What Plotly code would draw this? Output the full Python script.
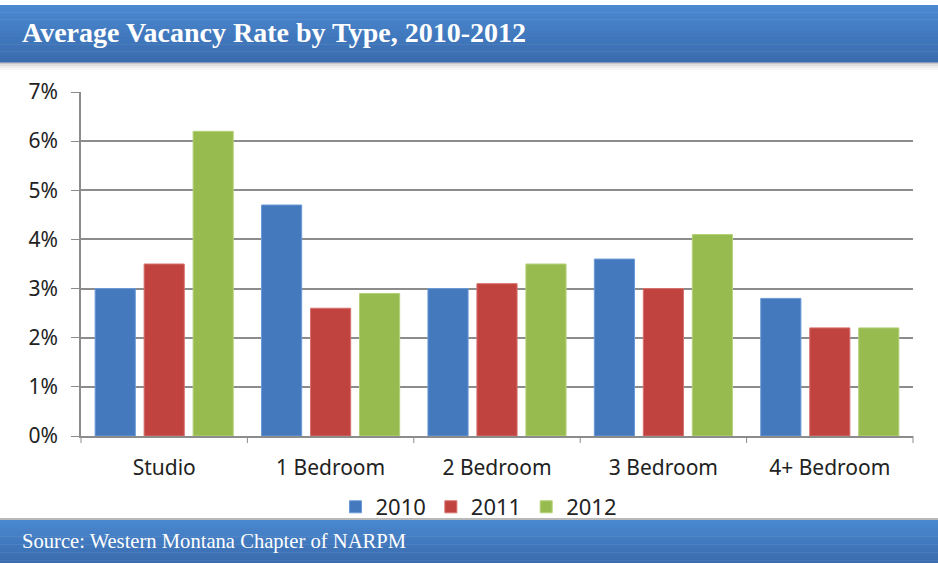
import plotly.graph_objects as go

categories = ["Studio", "1 Bedroom", "2 Bedroom", "3 Bedroom", "4+ Bedroom"]
years = ["2010", "2011", "2012"]
vac_2010 = [3.0, 4.7, 3.0, 3.6, 2.8]
vac_2011 = [3.5, 2.6, 3.1, 3.0, 2.2]
vac_2012 = [6.2, 2.9, 3.5, 4.1, 2.2]
tick_vals = [0, 1, 2, 3, 4, 5, 6, 7]
tick_text = ["0%", "1%", "2%", "3%", "4%", "5%", "6%", "7%"]

series = [vac_2010, vac_2011, vac_2012]
fills = ["#4579BE", "#C0433F", "#98BB4F"]
edges = ["#6A9AD6", "#D7716D", "#B4D27A"]

W, H = 938, 563
L, R, T, B = 81, 25, 92, 127
pw, ph = W - L - R, H - T - B


def px_x(x):
    return (x - L) / pw


def px_y(y):
    return (H - B - y) / ph


fig = go.Figure()
for name, vals, fc, ec in zip(years, series, fills, edges):
    fig.add_trace(go.Bar(
        name=name, x=categories, y=vals,
        marker=dict(color=fc, line=dict(color=ec, width=1)),
    ))

shapes = []


def add_banner(y0, y1, top, bot, n=16):
    def hx(c):
        return tuple(int(c[i:i + 2], 16) for i in (1, 3, 5))
    a, b = hx(top), hx(bot)
    for i in range(n):
        t = i / (n - 1)
        col = "rgb(%d,%d,%d)" % tuple(round(a[k] + (b[k] - a[k]) * t) for k in range(3))
        ya = y0 + (y1 - y0) * i / n
        yb = y0 + (y1 - y0) * (i + 1) / n + 0.5
        shapes.append(dict(type="rect", xref="paper", yref="paper",
                           x0=px_x(0), x1=px_x(W), y0=px_y(yb), y1=px_y(ya),
                           line=dict(width=0), fillcolor=col, layer="below"))


# shadow below the title banner
for k, alpha in enumerate([0.30, 0.18, 0.10, 0.05]):
    shapes.append(dict(type="rect", xref="paper", yref="paper",
                       x0=px_x(0), x1=px_x(W), y0=px_y(62 + 2 * k + 2), y1=px_y(62 + 2 * k),
                       line=dict(width=0), fillcolor="rgba(70,70,70,%.2f)" % alpha, layer="below"))
add_banner(5, 62, "#4A88D0", "#3A6CAE")
add_banner(520, 563, "#4A88D0", "#3A6CAE")
shapes.append(dict(type="line", xref="paper", yref="paper",
                   x0=px_x(0), x1=px_x(W), y0=px_y(519), y1=px_y(519),
                   line=dict(color="#A0A0A0", width=1.5), layer="below"))
# x tick marks at group boundaries
for i in range(6):
    xb = i / 5
    shapes.append(dict(type="line", xref="paper", yref="paper",
                       x0=xb, x1=xb, y0=0, y1=px_y(443),
                       line=dict(color="#8C8C8C", width=1)))

fig.update_layout(
    width=W, height=H,
    margin=dict(l=L, r=R, t=T, b=B),
    paper_bgcolor="white", plot_bgcolor="white",
    barmode="group", bargap=0.117, bargroupgap=0.18,
    font=dict(family="Noto Sans", size=21, color="#222222"),
    xaxis=dict(showline=True, linecolor="#8C8C8C", linewidth=1.5,
               ticks="", showgrid=False, tickfont=dict(size=21, color="#222"),
               ticklabelstandoff=12, fixedrange=True),
    yaxis=dict(range=[0, 7], tickvals=tick_vals, ticktext=tick_text,
               showline=True, linecolor="#8C8C8C", linewidth=1.5,
               ticks="outside", ticklen=8, tickcolor="#8C8C8C",
               showgrid=True, gridcolor="#8C8C8C", gridwidth=1.5,
               tickfont=dict(size=21, color="#222"), zeroline=False,
               ticklabelstandoff=9, fixedrange=True),
    legend=dict(orientation="h", x=px_x(479), xanchor="center", y=px_y(507), yanchor="middle",
                font=dict(size=22, color="#222"), itemwidth=30,
                bgcolor="rgba(0,0,0,0)", traceorder="normal"),
    shapes=shapes,
    annotations=[
        dict(text="<b>Average Vacancy Rate by Type, 2010-2012</b>", xref="paper", yref="paper",
             x=px_x(20), y=px_y(33), xanchor="left", yanchor="middle", showarrow=False,
             font=dict(family="Liberation Serif", size=28, color="white")),
        dict(text="Source: Western Montana Chapter of NARPM", xref="paper", yref="paper",
             x=px_x(20), y=px_y(541), xanchor="left", yanchor="middle", showarrow=False,
             font=dict(family="Liberation Serif", size=20.6, color="white")),
    ],
)
fig.write_html("out.html", config={"displayModeBar": False},
               post_script="document.body.style.margin='0px';")
